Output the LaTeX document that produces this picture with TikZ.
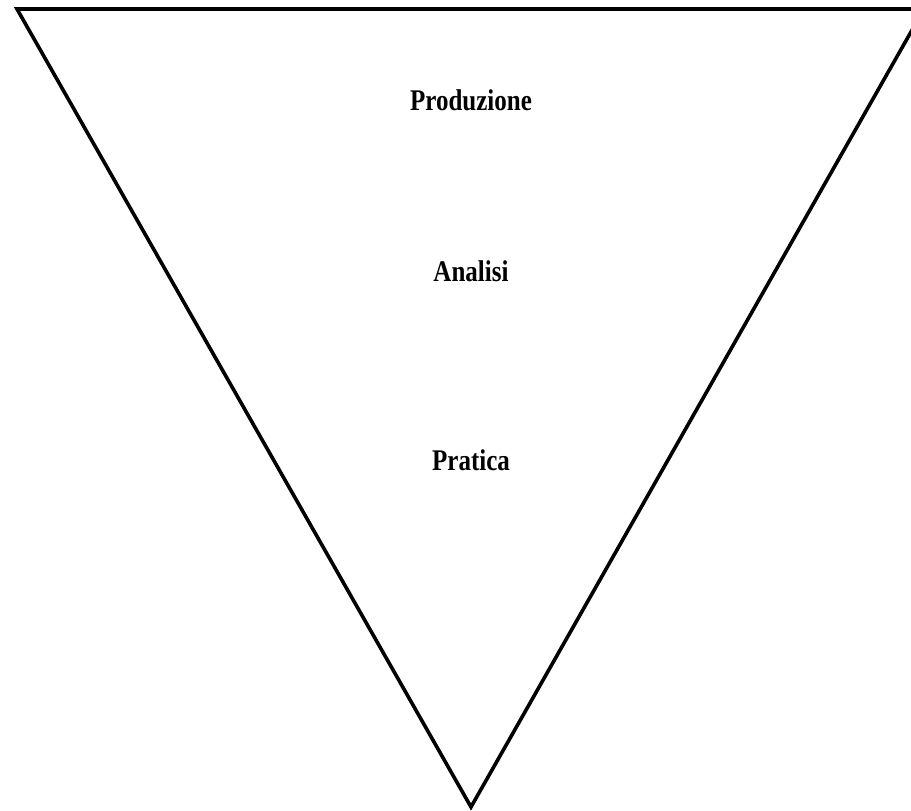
\documentclass[tikz,border=0pt]{standalone}
\usepackage{fontspec}
\setmainfont{Liberation Serif}
\newcommand{\tallbold}[1]{\scalebox{1}[1.2]{\fontsize{25}{30}\selectfont\bfseries #1}}
\begin{document}
\begin{tikzpicture}[x=1pt,y=1pt,
  lbl/.style={inner sep=0pt, anchor=base}]
\useasboundingbox (0,0) rectangle (911,811);
\clip (0,0) rectangle (911,811);
\coordinate (tl) at (17,802);
\coordinate (tr) at (924,802);
\coordinate (ap) at (471,4);
\draw[line width=3.6pt, line join=miter] (tl) -- (tr) -- (ap) -- cycle;
\node[lbl] (prod) at (471,700) {\tallbold{Produzione}};
\node[lbl] (anal) at (471,529) {\tallbold{Analisi}};
\node[lbl] (prat) at (471,340) {\tallbold{Pratica}};
\end{tikzpicture}
\end{document}
